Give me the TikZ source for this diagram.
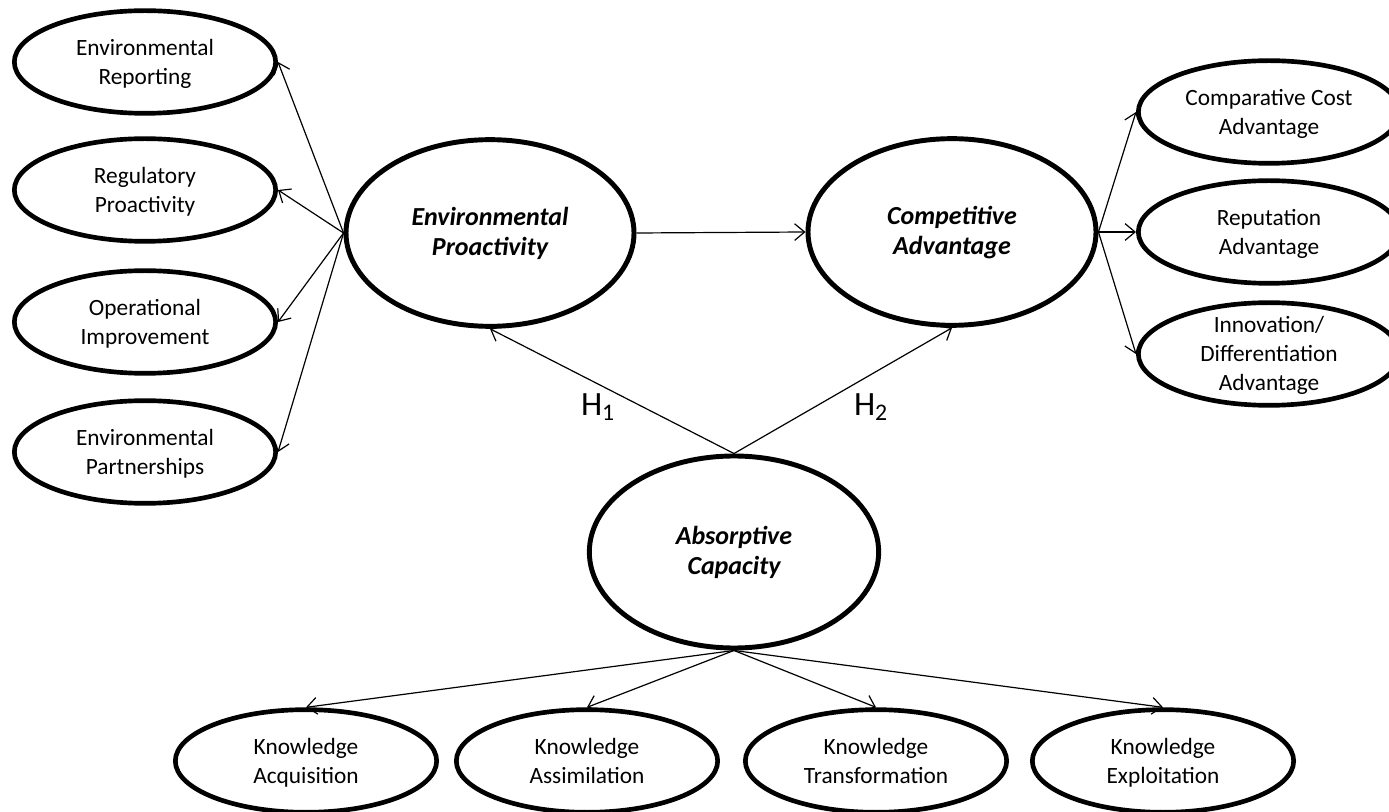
\documentclass[tikz,border=0pt]{standalone}
\usepackage{fontspec}
\setmainfont{Carlito}
\usetikzlibrary{shapes.geometric,arrows.meta}
\begin{document}
\begin{tikzpicture}[x=0.75pt,y=-0.75pt,
  small/.style={ellipse,draw,line width=3.5pt,minimum width=196pt,minimum height=77pt,inner sep=0pt},
  big/.style={ellipse,draw,line width=3.7pt,minimum width=216pt,minimum height=140pt,inner sep=0pt},
  stxt/.style={align=center,font=\fontsize{17.5pt}{21.8pt}\selectfont,inner sep=0pt,yshift=-3pt,
    execute at begin node=\strut, execute at end node=\strut},
  btxt/.style={align=center,font=\fontsize{19.5pt}{22.5pt}\selectfont\bfseries\itshape,inner sep=0pt,yshift=-2pt,
    execute at begin node=\strut, execute at end node=\strut},
  conn/.style={line width=0.9pt,-{Straight Barb[length=7.5pt,width=12.5pt]}},
  hyp/.style={font=\fontsize{25.5pt}{30pt}\selectfont,inner sep=0pt}]
\useasboundingbox (0,0) rectangle (1389,812);
% left indicators
\node[small] (er) at (145,62) {};
\node[stxt] (ert) at (er.center) {Environmental\\Reporting};
\node[small] (rp) at (145,190) {};
\node[stxt] (rpt) at (rp.center) {Regulatory\\Proactivity};
\node[small] (oi) at (145,322) {};
\node[stxt] (oit) at (oi.center) {Operational\\Improvement};
\node[small] (epa) at (145,452) {};
\node[stxt] (epat) at (epa.center) {Environmental\\Partnerships};
% main constructs
\node[big] (ep) at (490,233) {};
\node[btxt] (ept) at (ep.center) {Environmental\\Proactivity};
\node[big] (ca) at (952,232) {};
\node[btxt] (cat) at (ca.center) {Competitive\\Advantage};
\node[big,minimum height=144pt,minimum width=217pt] (ac) at (734,552) {};
\node[btxt] (act) at (ac.center) {Absorptive\\Capacity};
% right indicators
\node[small] (cc) at (1269,112) {};
\node[stxt] (cct) at (cc.center) {Comparative Cost\\Advantage};
\node[small] (ra) at (1269,232) {};
\node[stxt] (rat) at (ra.center) {Reputation\\Advantage};
\node[small] (ida) at (1269,354) {};
\node[stxt] (idat) at (ida.center) {Innovation/\\Differentiation\\Advantage};
% bottom indicators
\node[small] (ka) at (306,761) {};
\node[stxt] (kat) at (ka.center) {Knowledge\\Acquisition};
\node[small] (ks) at (587,761) {};
\node[stxt] (kst) at (ks.center) {Knowledge\\Assimilation};
\node[small] (kt) at (876,761) {};
\node[stxt] (ktt) at (kt.center) {Knowledge\\Transformation};
\node[small] (ke) at (1163,761) {};
\node[stxt] (ket) at (ke.center) {Knowledge\\Exploitation};
% hypothesis labels
\node[hyp] (h1) at (598,407) {H\textsubscript{1}};
\node[hyp] (h2) at (871,407) {H\textsubscript{2}};
% connectors
\draw[conn] (ep.west) -- (er.east);
\draw[conn] (ep.west) -- (rp.east);
\draw[conn] (ep.west) -- (oi.east);
\draw[conn] (ep.west) -- (epa.east);
\draw[conn] (ep.east) -- (ca.west);
\draw[conn] (ca.east) -- (cc.west);
\draw[conn] (ca.east) -- (ra.west);
\draw[conn] (ca.east) -- (ida.west);
\draw[conn] (ac.north) -- (ep.south);
\draw[conn] (ac.north) -- (ca.south);
\draw[conn] (ac.south) -- (ka.north);
\draw[conn] (ac.south) -- (ks.north);
\draw[conn] (ac.south) -- (kt.north);
\draw[conn] (ac.south) -- (ke.north);
\end{tikzpicture}
\end{document}
